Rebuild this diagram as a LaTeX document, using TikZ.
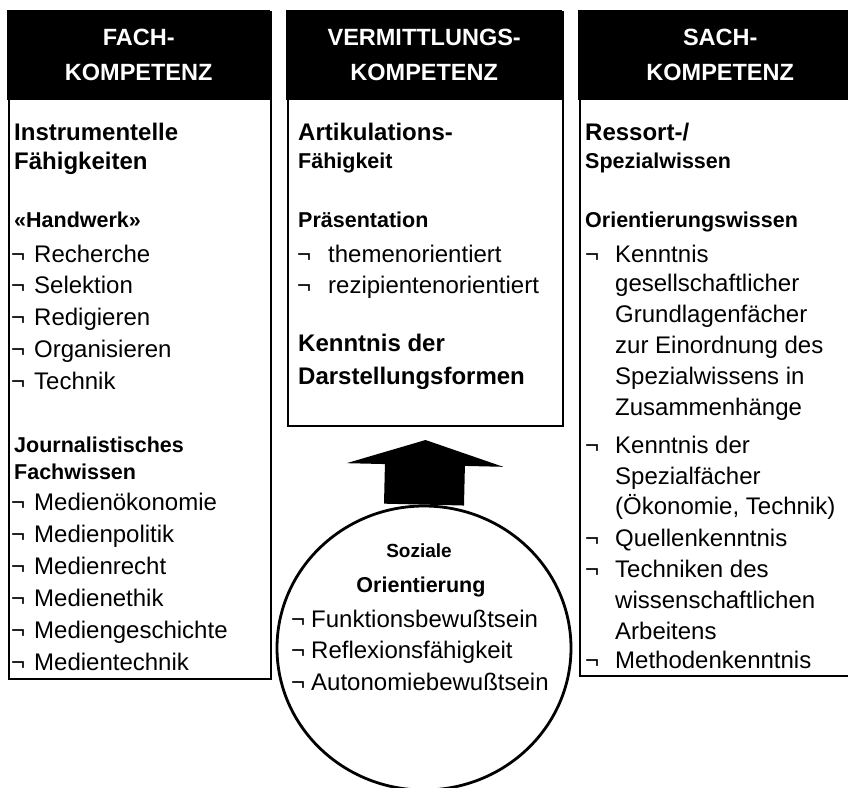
\documentclass[tikz,border=0pt]{standalone}
\usepackage{fontspec}
\setmainfont{Liberation Sans}
\usetikzlibrary{arrows.meta,positioning,calc,shapes.geometric}

\begin{document}
\begin{tikzpicture}[x=1pt,y=-1pt,
    kbox/.style={draw,line width=2pt,anchor=north west,inner sep=0pt},
    khead/.style={fill=black,text=white,anchor=north west,inner sep=0pt,align=center,
      font=\fontsize{23.5}{35}\selectfont\bfseries},
    bigbf/.style={anchor=base west,inner sep=0pt,font=\fontsize{24}{28}\selectfont\bfseries},
    smallbf/.style={anchor=base west,inner sep=0pt,font=\fontsize{21.5}{26}\selectfont\bfseries},
    item/.style={anchor=base west,inner sep=0pt,font=\fontsize{24}{31}\selectfont},
    bigarrow/.style={-{Triangle[length=25pt,width=156pt]},line width=80pt}
  ]
  \useasboundingbox (0,0) rectangle (848,787);

  % the three columns
  \node[kbox,minimum width=262pt,minimum height=667pt] (fach) at (8,11) {};
  \node[kbox,minimum width=275pt,minimum height=414pt] (verm) at (287,11) {};
  \node[kbox,minimum width=283pt,minimum height=664pt] (sach) at (579,11) {};
  \node[khead,minimum width=263pt,minimum height=90pt] (fachkopf) at (7,10) {FACH-\\KOMPETENZ};
  \node[khead,minimum width=276pt,minimum height=90pt] (vermkopf) at (286,10) {VERMITTLUNGS-\\KOMPETENZ};
  \node[khead,minimum width=284pt,minimum height=90pt] (sachkopf) at (578,10) {SACH-\\KOMPETENZ};

  % Fachkompetenz
  \node[bigbf] (instr) at (14,140) {Instrumentelle};
  \node[bigbf] (faehig) at (14,169) {Fähigkeiten};
  \node[smallbf] (handw) at (14,227) {«Handwerk»};
  \foreach \t [count=\i] in {Recherche,Selektion,Redigieren,Organisieren,Technik}
    \node[item] (hw\i) at (11,{262+31.8*(\i-1)}) {\makebox[23pt][l]{¬}\t};
  \node[smallbf] (journ) at (14,452) {Journalistisches};
  \node[smallbf] (fachw) at (14,479) {Fachwissen};
  \foreach \t [count=\i] in {Medienökonomie,Medienpolitik,Medienrecht,Medienethik,Mediengeschichte,Medientechnik}
    \node[item] (fw\i) at (11,{510+32*(\i-1)}) {\makebox[23pt][l]{¬}\t};

  % Vermittlungskompetenz
  \node[bigbf] (artik) at (298,140) {Artikulations-};
  \node[smallbf] (artikf) at (298,168) {Fähigkeit};
  \node[smallbf] (praes) at (298,227) {Präsentation};
  \node[item] (praes1) at (297,262) {\makebox[31pt][l]{¬}themenorientiert};
  \node[item] (praes2) at (297,293) {\makebox[31pt][l]{¬}rezipientenorientiert};
  \node[bigbf] (darst1) at (298,351) {Kenntnis der};
  \node[bigbf] (darst2) at (298,384) {Darstellungsformen};

  % Sachkompetenz
  \node[bigbf] (ress) at (585,140) {Ressort-/};
  \node[smallbf] (spez) at (585,168) {Spezialwissen};
  \node[smallbf] (orient) at (585,227) {Orientierungswissen};
  \foreach \y/\t [count=\i] in {262/\makebox[30pt][l]{¬}Kenntnis,
      291/\hspace{30pt}gesellschaftlicher,322/\hspace{30pt}Grundlagenfächer,
      353/\hspace{30pt}zur Einordnung des,384/\hspace{30pt}Spezialwissens in,
      415/\hspace{30pt}Zusammenhänge,453/\makebox[30pt][l]{¬}Kenntnis der,
      484/\hspace{30pt}Spezialfächer,514/\hspace{30pt}(Ökonomie{,} Technik),
      546/\makebox[30pt][l]{¬}Quellenkenntnis,577/\makebox[30pt][l]{¬}Techniken des,
      608/\hspace{30pt}wissenschaftlichen,639/\hspace{30pt}Arbeitens,
      668/\makebox[30pt][l]{¬}Methodenkenntnis}
    \node[item] (sk\i) at (585,\y) {\t};

  % Soziale Orientierung
  \node[draw,ellipse,line width=2.8pt,minimum width=294pt,minimum height=284pt,inner sep=0pt] (sozial) at (424,648) {};
  \draw[bigarrow] (sozial.north) -- ($(verm.south)+(0,13)$);
  \node[anchor=base,inner sep=0pt,font=\fontsize{19}{24}\selectfont\bfseries] (soz1) at (419,557) {Soziale};
  \node[anchor=base,inner sep=0pt,font=\fontsize{21.5}{26}\selectfont\bfseries] (soz2) at (421,592) {Orientierung};
  \foreach \t [count=\i] in {Funktionsbewußtsein,Reflexionsfähigkeit,Autonomiebewußtsein}
    \node[item] (so\i) at (291,{627+31.5*(\i-1)}) {\makebox[20pt][l]{¬}\t};
\end{tikzpicture}
\end{document}
